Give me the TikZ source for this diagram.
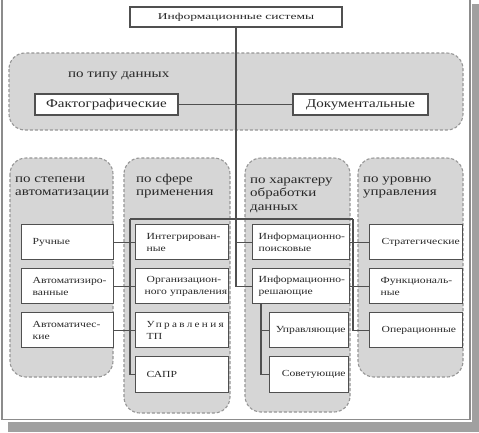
\documentclass[tikz,border=0pt]{standalone}
\usepackage{fontspec}
\setmainfont{Liberation Serif}[FakeStretch=1.25]
\newfontfamily\widefont{Liberation Serif}[FakeStretch=1.5]
\newfontfamily\spacedfont{Liberation Serif}[FakeStretch=1.2,LetterSpace=25]
\definecolor{grpfill}{RGB}{214,214,214}
\definecolor{grpdash}{RGB}{150,150,150}
\definecolor{linec}{RGB}{80,80,80}
\definecolor{txtc}{RGB}{40,40,40}
\definecolor{shadowc}{RGB}{160,160,160}
\definecolor{framec}{RGB}{140,140,140}
\tikzset{
  grp/.style={fill=grpfill, draw=grpdash, line width=1.1pt, dash pattern=on 3pt off 2pt, rounded corners=16pt},
  conn/.style={draw=linec, line width=1.3pt},
  box/.style={draw=linec, line width=1.3pt, fill=white, anchor=north west, minimum height=35pt,
    inner xsep=8pt, inner ysep=0pt, align=left, text=txtc, text width=#1,
    font=\fontsize{9.3}{12}\selectfont},
  wbox/.style={draw=linec, line width=1.3pt, fill=white, inner sep=0pt, text=txtc},
  glabel/.style={anchor=base west, inner sep=0pt, align=left, text=txtc, font=\fontsize{12}{13.5}\selectfont}
}
\begin{document}
\begin{tikzpicture}[x=1pt,y=-1pt]
\useasboundingbox (0,0) rectangle (479,432);
% page frame and shadow
\fill[white] (0,0) rectangle (479,432);
\fill[shadowc] (472,4) rectangle (479,432);
\fill[shadowc] (8,422) rectangle (479,432);
\draw[framec, line width=1.2pt] (2,-1) -- (2,419.5) -- (470,419.5) -- (470,-1);
% groups
\path[grp] (9,53) rectangle (463,130);
\path[grp] (10,158) rectangle (113,377);
\path[grp] (124,158) rectangle (230,413);
\path[grp] (245,158) rectangle (350,412);
\path[grp] (358,158) rectangle (463,377);
% group labels (anchored at the baseline of the last line)
\node[glabel] (l0) at (68,77) {по типу данных};
\node[glabel] (l1) at (15,195.5) {по степени\\автоматизации};
\node[glabel] (l2) at (136,195.5) {по сфере\\применения};
\node[glabel] (l3) at (250,210) {по характеру\\обработки\\данных};
\node[glabel] (l4) at (363,195.5) {по уровню\\управления};
% top nodes
\node[wbox, minimum width=212pt, minimum height=20pt, font=\widefont\fontsize{9}{11}\selectfont] (top) at (236,17) {Информационные системы};
\node[wbox, minimum width=143pt, minimum height=21pt, font=\fontsize{12}{14}\selectfont] (fact) at (106.5,104.5) {Фактографические};
\node[wbox, minimum width=135pt, minimum height=21pt, font=\fontsize{12}{14}\selectfont] (doc) at (360.5,104.5) {Документальные};
% bus coordinates
\coordinate (b2) at (130,219);
\coordinate (b4) at (353,219);
% boxes
\node[box=76pt] (ruch) at (21,224) {\hspace*{3pt}Ручные};
\node[box=80pt, inner xsep=6pt] (avtz) at (21,268) {\hspace*{5pt}Автоматизиро-\\\hspace*{5pt}ванные};
\node[box=80pt, inner xsep=6pt] (avtc) at (21,312) {\hspace*{5pt}Автоматичес-\\\hspace*{5pt}кие};
\node[box=85pt, inner xsep=4pt] (integ) at (135,224) {\hspace*{7pt}Интегрирован-\\\hspace*{7pt}ные};
\node[box=85pt, inner xsep=4pt] (org) at (135,268) {\hspace*{7pt}Организацион-\\\hspace*{5pt}ного~управления};
\node[box=85pt, inner xsep=4pt] (tp) at (135,312) {\hspace*{7pt}{\spacedfont Управления}\\\hspace*{7pt}ТП};
\node[box=85pt, inner xsep=4pt, minimum height=36pt] (sapr) at (135,356) {\hspace*{7pt}САПР};
\node[box=93pt, inner xsep=2pt] (ip) at (252,224) {\hspace*{4pt}Информационно-\\\hspace*{4pt}поисковые};
\node[box=93pt, inner xsep=2pt] (ir) at (252,268) {\hspace*{4pt}Информационно-\\\hspace*{4pt}решающие};
\node[box=73pt, inner xsep=3pt, align=right] (upr) at (269,312) {Управляющие};
\node[box=73pt, inner xsep=3pt, align=right, minimum height=36pt] (sov) at (269,356) {Советующие};
\node[box=85pt, inner xsep=4pt] (strat) at (369,224) {\hspace*{8pt}Стратегические};
\node[box=85pt, inner xsep=4pt] (func) at (369,268) {\hspace*{7pt}Функциональ-\\\hspace*{7pt}ные};
\node[box=85pt, inner xsep=4pt] (oper) at (369,312) {\hspace*{8pt}Операционные};
% connectors
\coordinate (b3) at ([xshift=9pt]ir.south west);
\draw[conn] (top.south) |- (ir.west);
\draw[conn] (fact.east) -- (doc.west);
\draw[conn] (b2) -- (b4);
\draw[conn] (b2) |- (sapr.west);
\draw[conn] (b4) |- (oper.west);
\draw[conn] (ruch.east) -- (integ.west);
\draw[conn] (avtz.east) -- (org.west);
\draw[conn] (avtc.east) -- (tp.west);
\draw[conn] (ip.east) -- (strat.west);
\draw[conn] (ir.east) -- (func.west);
\draw[conn] (top.south |- ip.west) -- (ip.west);
\draw[conn] (b3) |- (sov.west);
\draw[conn] (b3 |- upr.west) -- (upr.west);
\end{tikzpicture}
\end{document}
